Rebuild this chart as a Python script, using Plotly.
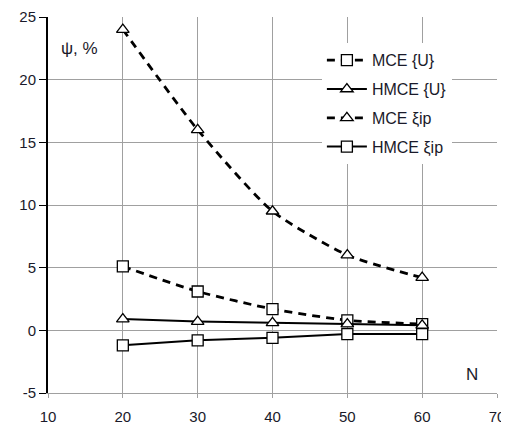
import plotly.graph_objects as go

N = [20, 30, 40, 50, 60]
mce_u = [5.1, 3.1, 1.7, 0.8, 0.5]
hmce_u = [0.9, 0.7, 0.6, 0.5, 0.4]
mce_xi = [24.0, 16.0, 9.5, 6.0, 4.2]
hmce_xi = [-1.2, -0.8, -0.6, -0.3, -0.3]

names = ["MCE {U}", "HMCE {U}", "MCE \u03beip", "HMCE \u03beip"]
x_ticks = [10, 20, 30, 40, 50, 60, 70]
y_ticks = [-5, 0, 5, 10, 15, 20, 25]

fig = go.Figure()
mk_sq = dict(symbol="square", size=11, color="white", line=dict(color="black", width=1.3))
mk_tr = dict(symbol="triangle-up", size=11, color="white", line=dict(color="black", width=1.3))
dash_line = dict(color="black", width=2.8, dash="8px,6px", shape="spline", smoothing=0.6)
solid_line = dict(color="black", width=2)

fig.add_trace(go.Scatter(x=N, y=mce_u, name=names[0], mode="lines+markers",
                         line=dash_line, marker=mk_sq, legendgroup="a"))
fig.add_trace(go.Scatter(x=N, y=hmce_u, name=names[1], mode="lines+markers",
                         line=solid_line, marker=mk_tr, legendgroup="b"))
fig.add_trace(go.Scatter(x=N, y=mce_xi, name=names[2], mode="lines+markers",
                         line=dash_line, marker=mk_tr, legendgroup="c"))
fig.add_trace(go.Scatter(x=N, y=hmce_xi, name=names[3], mode="lines+markers",
                         line=solid_line, marker=mk_sq, legendgroup="d"))

fig.update_layout(
    width=501, height=420,
    margin=dict(l=40, r=12, t=9, b=35, autoexpand=False),
    paper_bgcolor="white", plot_bgcolor="white",
    font=dict(family="Liberation Sans, Arial, sans-serif", size=15, color="#1a1a2a"),
    showlegend=True,
    legend=dict(x=0.61, y=0.93, xanchor="left", yanchor="top",
                bgcolor="white", borderwidth=0, font=dict(size=16),
                tracegroupgap=5, itemwidth=40),
    xaxis=dict(range=[10, 70], tickvals=x_ticks, ticktext=[str(v) for v in x_ticks],
               showgrid=True, gridcolor="#a0a0a0", gridwidth=1.2, automargin=False,
               zeroline=False, showline=True, linecolor="#a0a0a0", linewidth=1.2,
               ticks="outside", ticklen=4, tickcolor="#a0a0a0", tickfont=dict(size=15),
               ticklabelstandoff=6),
    yaxis=dict(range=[-5, 25], tickvals=y_ticks, ticktext=[str(v) for v in y_ticks],
               showgrid=True, gridcolor="#a0a0a0", gridwidth=1.2, automargin=False,
               zeroline=False, showline=True, linecolor="black", linewidth=2,
               ticks="outside", ticklen=7, tickcolor="black", tickfont=dict(size=15)),
    annotations=[
        dict(x=0.025, y=0.915, xref="paper", yref="paper", text="\u03c8, %", showarrow=False,
             xanchor="left", yanchor="middle", font=dict(size=17, color="#1a1a2a")),
        dict(x=0.945, y=0.05, xref="paper", yref="paper", text="N", showarrow=False,
             xanchor="center", yanchor="middle", font=dict(size=17, color="#1a1a2a")),
    ],
)

fig.write_html("out.html")
